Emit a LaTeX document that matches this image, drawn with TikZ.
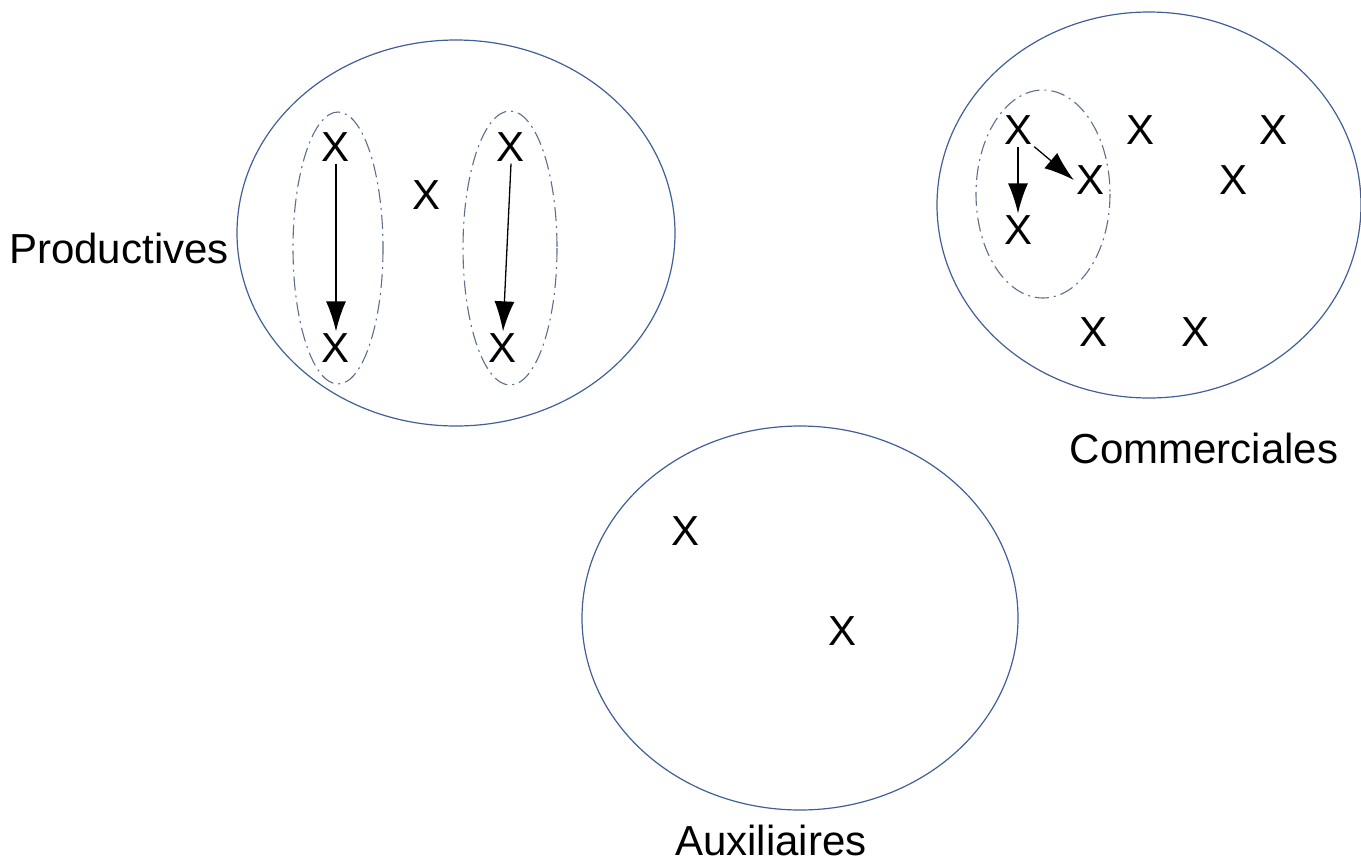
\documentclass[tikz,border=0pt]{standalone}
\usepackage{fontspec}
\setmainfont{Liberation Sans}
\usetikzlibrary{arrows.meta}
\definecolor{ellblue}{RGB}{65,95,150}
\definecolor{dashblue}{RGB}{95,110,140}
\begin{document}
\begin{tikzpicture}[x=1pt,y=-1pt,
  bigell/.style={draw=ellblue,line width=1.2pt},
  smallell/.style={draw=dashblue,line width=1.1pt,dash pattern=on 14pt off 5pt on 2pt off 5pt},
  xnode/.style={font=\fontsize{42}{48}\selectfont,inner sep=2pt},
  lbl/.style={font=\fontsize{42}{48}\selectfont,inner sep=0pt},
  arr/.style={-{Latex[length=30pt,width=20pt]},line width=1.3pt}]
\useasboundingbox (0,0) rectangle (1361,863);
% big ellipses
\draw[bigell] (456,233) ellipse [x radius=219, y radius=193];
\draw[bigell] (1149,205) ellipse [x radius=212, y radius=193];
\draw[bigell] (800,618) ellipse [x radius=218, y radius=192];
% dashed ellipses
\draw[smallell] (338,248) ellipse [x radius=45, y radius=136];
\draw[smallell] (510,248) ellipse [x radius=47, y radius=137];
\draw[smallell] (1043,194) ellipse [x radius=67, y radius=104];
% Productives
\node[xnode] (p1) at (336,147) {X};
\node[xnode] (p2) at (336,348) {X};
\node[xnode] (p3) at (427,195) {X};
\node[xnode] (p4) at (511,147) {X};
\node[xnode] (p5) at (503,348) {X};
% Commerciales
\node[xnode] (c1) at (1018,130) {X};
\node[xnode] (c2) at (1090,180) {X};
\node[xnode] (c3) at (1018,230) {X};
\node[xnode] (c4) at (1140,130) {X};
\node[xnode] (c5) at (1273,130) {X};
\node[xnode] (c6) at (1233,180) {X};
\node[xnode] (c7) at (1093,332) {X};
\node[xnode] (c8) at (1195,332) {X};
% Auxiliaires
\node[xnode] (a1) at (686,531) {X};
\node[xnode] (a2) at (842,631) {X};
% labels
\node[lbl] (lp) at (119,248) {Productives};
\node[lbl] (lc) at (1204,448) {Commerciales};
\node[lbl] (la) at (771,840) {Auxiliaires};
% arrows
\draw[arr] (p1.south) -- (p2.north);
\draw[arr] (p4.south) -- (p5.north);
\draw[arr] (c1.south) -- (c3.north);
\draw[arr] (c1.south east) -- (c2.west);
\end{tikzpicture}
\end{document}
